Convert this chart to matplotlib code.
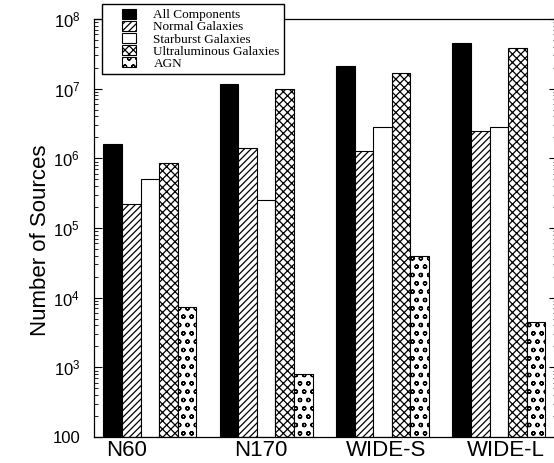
import numpy as np
import matplotlib
matplotlib.use("Agg")
import matplotlib.pyplot as plt
from matplotlib.patches import Rectangle
from matplotlib.container import BarContainer
from matplotlib.legend_handler import HandlerPatch, update_from_first_child
from matplotlib.ticker import FixedLocator, FixedFormatter, LogLocator, NullFormatter

# survey names and source counts
surveys = ["N60", "N170", "WIDE-S", "WIDE-L"]
components = ["All Components", "Normal Galaxies", "Starburst Galaxies",
              "Ultraluminous Galaxies", "AGN"]
all_comp = [1.6e6, 1.18e7, 2.1e7, 4.5e7]
normal = [2.2e5, 1.4e6, 1.26e6, 2.5e6]
starburst = [5.0e5, 2.5e5, 2.8e6, 2.8e6]
ulirg = [8.5e5, 1.0e7, 1.7e7, 3.85e7]
agn = [7.2e3, 7.0e2, 4.0e4, 4.4e3]

series = [all_comp, normal, starburst, ulirg, agn]
faces = ["black", "white", "white", "white", "white"]
hatches = [None, "/////", None, "xxxx", "oo"]
# the survey names sit a bit off the group centres in the original
label_shift = [-0.20, -0.05, 0.03, 0.06]

plt.rcParams["hatch.linewidth"] = 0.9
plt.rcParams["mathtext.fontset"] = "custom"
plt.rcParams["mathtext.rm"] = "Liberation Sans"
plt.rcParams["mathtext.it"] = "Liberation Sans:italic"

fig = plt.figure(figsize=(5.54, 4.63), dpi=100)
ax = fig.add_axes([94/554, 26/463, (557-94)/554, 418/463])

x = np.arange(len(surveys))
w = 0.16
for i, vals in enumerate(series):
    ax.bar(x + (i - 2) * w, vals, width=w, bottom=100, color=faces[i],
           edgecolor="black", linewidth=0.8, hatch=hatches[i],
           label=components[i])

ax.set_yscale("log")
ax.set_ylim(100, 1e8)
ax.set_xlim(-0.48, 3.5)

ax.yaxis.set_major_locator(FixedLocator([1e2, 1e3, 1e4, 1e5, 1e6, 1e7, 1e8]))
ax.yaxis.set_major_formatter(FixedFormatter(
    ["100", "$10^3$", "$10^4$", "$10^5$", "$10^6$", "$10^7$", "$10^8$"]))
ax.yaxis.set_minor_locator(LogLocator(base=10, subs=np.arange(2, 10)))
ax.yaxis.set_minor_formatter(NullFormatter())
ax.tick_params(axis="y", which="major", direction="in", length=6, right=True,
               labelsize=12, pad=10)
ax.tick_params(axis="y", which="minor", direction="in", length=3, right=True)

ax.set_xticks(x + np.array(label_shift))
ax.set_xticklabels(surveys, fontsize=16, fontfamily="Liberation Sans")
ax.tick_params(axis="x", length=0, pad=2)
for lab in ax.get_yticklabels():
    lab.set_fontfamily("Liberation Sans")

ax.set_ylabel("Number of Sources", fontsize=16, fontfamily="Liberation Sans")
ax.yaxis.set_label_coords(-0.092, 0.47)

for sp in ax.spines.values():
    sp.set_linewidth(0.9)


# small legend swatch drawn at the right end of the handle slot
def right_box(legend, orig_handle, xdescent, ydescent, width, height, fontsize):
    s = 1.05 * fontsize
    return Rectangle((-xdescent + width - s, -ydescent), s, height)


leg = fig.legend(loc="upper left", bbox_to_anchor=(102/554, 1 - 4/463),
                 prop={"family": "Liberation Serif", "size": 9.5},
                 frameon=True, fancybox=False, edgecolor="black",
                 framealpha=1, handlelength=2.2, handleheight=0.85,
                 labelspacing=-0.06, borderpad=0.35, handletextpad=1.35,
                 borderaxespad=0,
                 handler_map={BarContainer: HandlerPatch(
                     patch_func=right_box, update_func=update_from_first_child)})
leg.get_frame().set_linewidth(1.0)

fig.savefig("out.png", dpi=100)
